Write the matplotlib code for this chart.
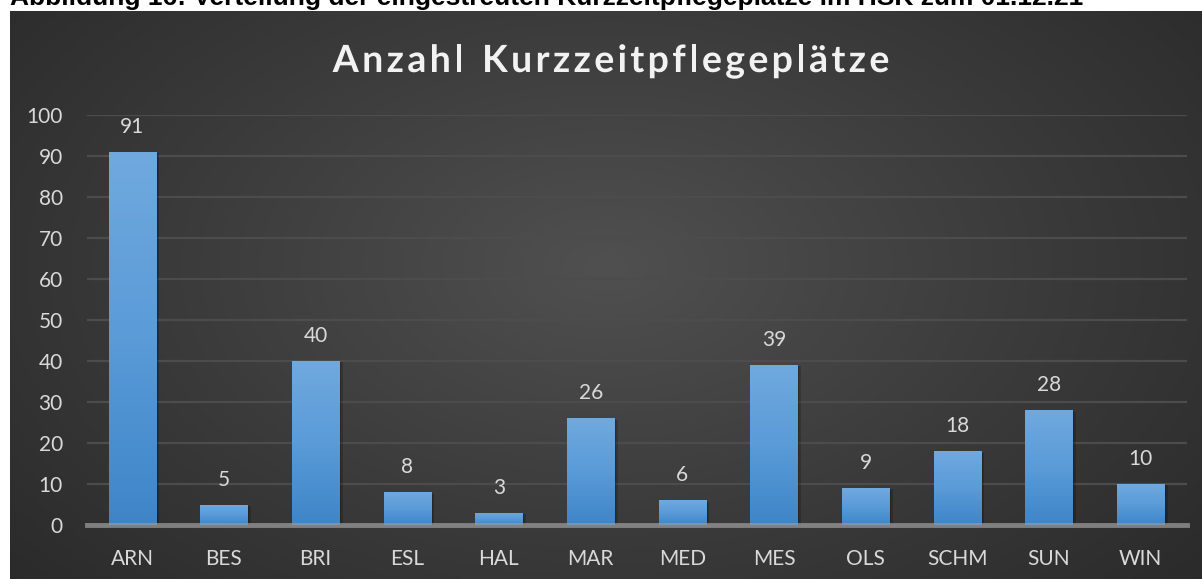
import numpy as np
import matplotlib
matplotlib.use('Agg')
import matplotlib.pyplot as plt
import matplotlib.patheffects as pe
from matplotlib.colors import LinearSegmentedColormap

# data
categories = ['ARN', 'BES', 'BRI', 'ESL', 'HAL', 'MAR', 'MED', 'MES', 'OLS', 'SCHM', 'SUN', 'WIN']
values = [91, 5, 40, 8, 3, 26, 6, 39, 9, 18, 28, 10]
y_ticks = [0, 10, 20, 30, 40, 50, 60, 70, 80, 90, 100]
title = 'Anzahl Kurzzeitpflegeplätze'
caption = 'Abbildung 16: Verteilung der eingestreuten Kurzzeitpflegeplätze im HSK zum 01.12.21'

W, H = 1202, 579
fig = plt.figure(figsize=(W / 100, H / 100), dpi=100)
fig.patch.set_facecolor('white')

# caption above the chart, cut off at the top edge like in the document
fig.text(10 / W, 1 - 5 / H, caption, fontsize=19, fontweight='bold', family='Liberation Sans',
         color='black', ha='left', va='baseline')

# dark radial background
bg = fig.add_axes([10 / W, 0, 1 - 10 / W, (H - 11) / H])
yy, xx = np.mgrid[0:1:300j, 0:1:600j]
r = np.sqrt(((xx - 0.5) / 0.75) ** 2 + ((yy - 0.55) / 0.95) ** 2)
bg_cmap = LinearSegmentedColormap.from_list('bg', ['#505050', '#3a3a3a', '#262626'])
bg.imshow(np.clip(r, 0, 1), cmap=bg_cmap, vmin=0, vmax=1, aspect='auto',
          extent=[0, 1, 0, 1], origin='lower', zorder=0)
bg.set_axis_off()

ax = fig.add_axes([86.5 / W, (H - 525) / H, 1100 / W, 410 / H])
ax.set_facecolor('none')
x = np.arange(len(categories))

for t in y_ticks[1:]:
    ax.axhline(t, color='#4c4c4c', lw=1.6, zorder=1)

# bars with a vertical blue gradient and a soft shadow
bar_cmap = LinearSegmentedColormap.from_list('bar', ['#3e85c8', '#5a9bd8', '#70a9de'])
grad = np.linspace(0, 1, 256).reshape(-1, 1)
bars = ax.bar(x, values, width=0.515, color='#5a9bd8', zorder=2,
              path_effects=[pe.SimplePatchShadow(offset=(2.5, -1), shadow_rgbFace='black', alpha=0.18),
                            pe.SimplePatchShadow(offset=(1.2, -0.5), shadow_rgbFace='black', alpha=0.18),
                            pe.Normal()])
for b in bars:
    im = ax.imshow(grad, cmap=bar_cmap, aspect='auto', origin='lower',
                   extent=[b.get_x(), b.get_x() + b.get_width(), 0, b.get_height()], zorder=3)
    im.set_clip_path(b)

ax.set_xlim(-0.5, len(categories) - 0.5)
ax.set_ylim(0, 100)

# zero line
ax.axhline(0, color='#9a9a9a', lw=3.5, alpha=0.75, zorder=4, clip_on=False)

for xi, v in zip(x, values):
    ax.annotate(str(v), (xi, v), xytext=(0, 18), textcoords='offset points',
                ha='center', va='center', fontsize=15, family='Lato', color='#d9d9d9')

ax.set_xticks(x)
ax.set_xticklabels(categories)
ax.set_yticks(y_ticks)
ax.tick_params(axis='both', length=0, labelsize=15, labelcolor='#d9d9d9')
ax.tick_params(axis='x', pad=17)
ax.tick_params(axis='y', pad=17)
for lab in ax.get_xticklabels() + ax.get_yticklabels():
    lab.set_family('Lato')
for s in ax.spines.values():
    s.set_visible(False)

# title drawn letter by letter to get the wide character spacing
renderer = fig.canvas.get_renderer()
title_kw = dict(fontsize=27, fontweight='bold', family='Lato', color='#f2f2f2',
                va='baseline', ha='left')
widths = []
for ch in title:
    t = fig.text(0, 0, ch if ch != ' ' else 'n', **title_kw)
    w = t.get_window_extent(renderer).width
    widths.append(w * 0.55 if ch == ' ' else w)
    t.remove()
spacing = 3.4
total = sum(widths) + spacing * (len(title) - 1)
xpos = 611 - total / 2
for ch, w in zip(title, widths):
    if ch != ' ':
        fig.text(xpos / W, 1 - 72 / H, ch, **title_kw,
                 path_effects=[pe.SimpleLineShadow(offset=(1, -1.5), alpha=0.0),
                               pe.withSimplePatchShadow(offset=(0.8, -1.2), shadow_rgbFace='black',
                                                        alpha=0.0)])
    xpos += w + spacing

fig.savefig('out.png', dpi=100)
